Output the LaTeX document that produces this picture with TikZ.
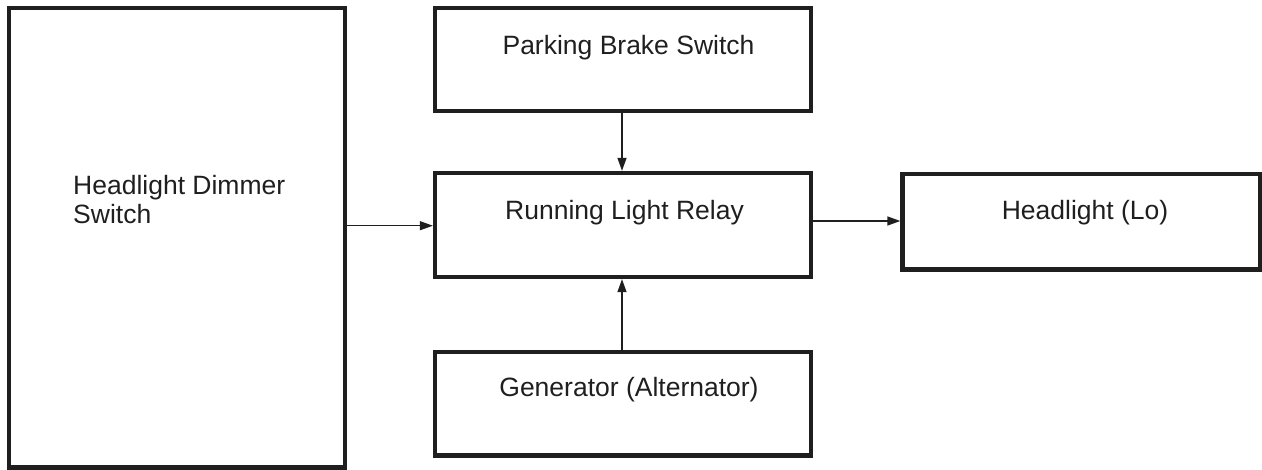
\documentclass[tikz,border=0pt]{standalone}
\usepackage{fontspec}
\setmainfont{Liberation Sans}
\usetikzlibrary{arrows.meta}
\begin{document}
\begin{tikzpicture}[x=1pt,y=-1pt,
  box/.style={draw=black!88, line width=4.3pt, inner sep=0pt},
  lbl/.style={font=\fontsize{26.5}{28.5}\selectfont, inner sep=0pt, text=black!88},
  conn/.style={draw=black!88, line width=1.3pt, -{Triangle[length=13pt,width=9pt]}}]
\useasboundingbox (0,0) rectangle (1262,469);
\node[box, minimum width=336.3pt, minimum height=459.5pt] (dim) at (176.85,237.75) {};
\node[box, minimum width=376pt, minimum height=103pt] (pbs) at (623,59.5) {};
\node[box, minimum width=376pt, minimum height=104pt] (rlr) at (623,225) {};
\node[box, minimum width=376pt, minimum height=103.5pt] (gen) at (623,403.75) {};
\node[box, minimum width=357.5pt, minimum height=95.5pt] (hl) at (1081.25,221.75) {};
\node[lbl, anchor=west, align=left] (dimt) at (73,199.5) {Headlight Dimmer\\Switch};
\node[lbl] (pbst) at (628.5,48) {Parking Brake Switch};
\node[lbl] (rlrt) at (624.5,213) {Running Light Relay};
\node[lbl] (gent) at (629,390) {Generator (Alternator)};
\node[lbl] (hlt) at (1085,213) {Headlight (Lo)};
\draw[conn] (dim.east |- 0,225.7) -- (rlr.west |- 0,225.7);
\draw[conn] (pbs.south -| 622,0) -- (rlr.north -| 622,0);
\draw[conn] (gen.north -| 622,0) -- (rlr.south -| 622,0);
\draw[conn] (rlr.east |- 0,221) -- (hl.west |- 0,221);
\end{tikzpicture}
\end{document}
